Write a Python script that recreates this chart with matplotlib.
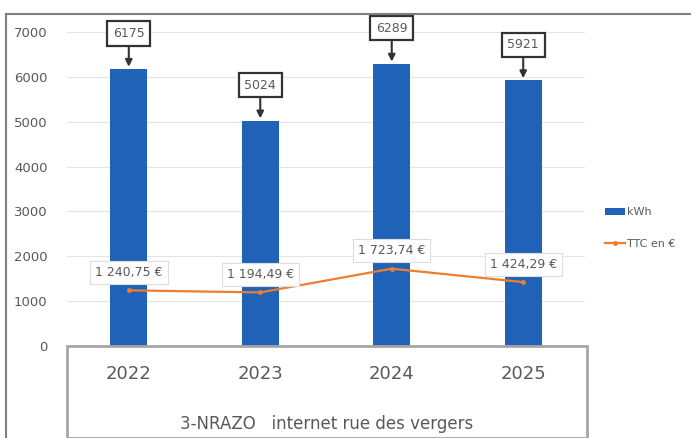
import matplotlib.pyplot as plt
from matplotlib.patches import Rectangle
from matplotlib.lines import Line2D

years = ["2022", "2023", "2024", "2025"]
kwh = [6175, 5024, 6289, 5921]
ttc = [1240.75, 1194.49, 1723.74, 1424.29]
ttc_labels = ["1 240,75 €", "1 194,49 €", "1 723,74 €", "1 424,29 €"]
title = "3-NRAZO   internet rue des vergers"

BLUE = "#1f62b8"
ORANGE = "#ed7d31"
GREY = "#595959"

W, H = 691, 438
fig = plt.figure(figsize=(W / 100, H / 100), dpi=100)
ax = fig.add_axes([67 / W, 1 - 346 / H, (585 - 67) / W, (346 - 32) / H])

x = range(len(years))
bars = ax.bar(x, kwh, width=0.28, color=BLUE, label="kWh", zorder=2)
line, = ax.plot(x, ttc, color=ORANGE, lw=1.6, marker="o", ms=2.5, label="TTC en €", zorder=3)

ax.set_ylim(0, 7000)
ax.set_xlim(-0.47, 3.47)
ax.set_yticks(range(0, 7001, 1000))
ax.grid(axis="y", color="#e4e4e4", lw=0.8, zorder=0)
for s in ax.spines.values():
    s.set_visible(False)
ax.tick_params(axis="y", length=0, labelsize=9.5, labelcolor=GREY, pad=14)
ax.set_xticks(list(x))
ax.set_xticklabels(years, fontsize=13, color=GREY)
ax.tick_params(axis="x", length=0, pad=14)

# callouts for kWh values
for i, v in enumerate(kwh):
    ax.annotate(str(v), xy=(i, v + 50), xytext=(0, 24), textcoords="offset points",
                ha="center", va="center", fontsize=9, color=GREY,
                bbox=dict(boxstyle="square,pad=0.45", fc="white", ec="#333333", lw=1.6),
                arrowprops=dict(arrowstyle="-|>", color="#333333", lw=1.5,
                                mutation_scale=10, shrinkA=0, shrinkB=0),
                annotation_clip=False, zorder=5)

# price labels
for i, (v, lab) in enumerate(zip(ttc, ttc_labels)):
    ax.annotate(lab, xy=(i, v), xytext=(0, 13), textcoords="offset points",
                ha="center", va="center", fontsize=9, color=GREY,
                bbox=dict(boxstyle="square,pad=0.4", fc="white", ec="#dddddd", lw=0.8),
                zorder=5)

# category box under the plot
fig.patches.append(Rectangle((67 / W, 0), (587 - 67) / W, (H - 346) / H,
                             transform=fig.transFigure, fill=False, ec="#a6a6a6", lw=2))
fig.text((67 + 587) / 2 / W, 1 - 424 / H, title, ha="center", va="center",
         fontsize=12, color=GREY)

# outer frame
fig.add_artist(Line2D([6 / W, 1], [1 - 14 / H, 1 - 14 / H], color="#7f7f7f", lw=1.5))
fig.add_artist(Line2D([6 / W, 6 / W], [0, 1 - 14 / H], color="#7f7f7f", lw=1.5))

leg = fig.legend([bars, line], ["kWh", "TTC en €"], loc="center left",
                 bbox_to_anchor=(595 / W, 1 - 228 / H), frameon=False,
                 fontsize=8, handlelength=1.8, labelspacing=1.9, handletextpad=0.2)
for t in leg.get_texts():
    t.set_color(GREY)

fig.savefig("out.png", dpi=100)
